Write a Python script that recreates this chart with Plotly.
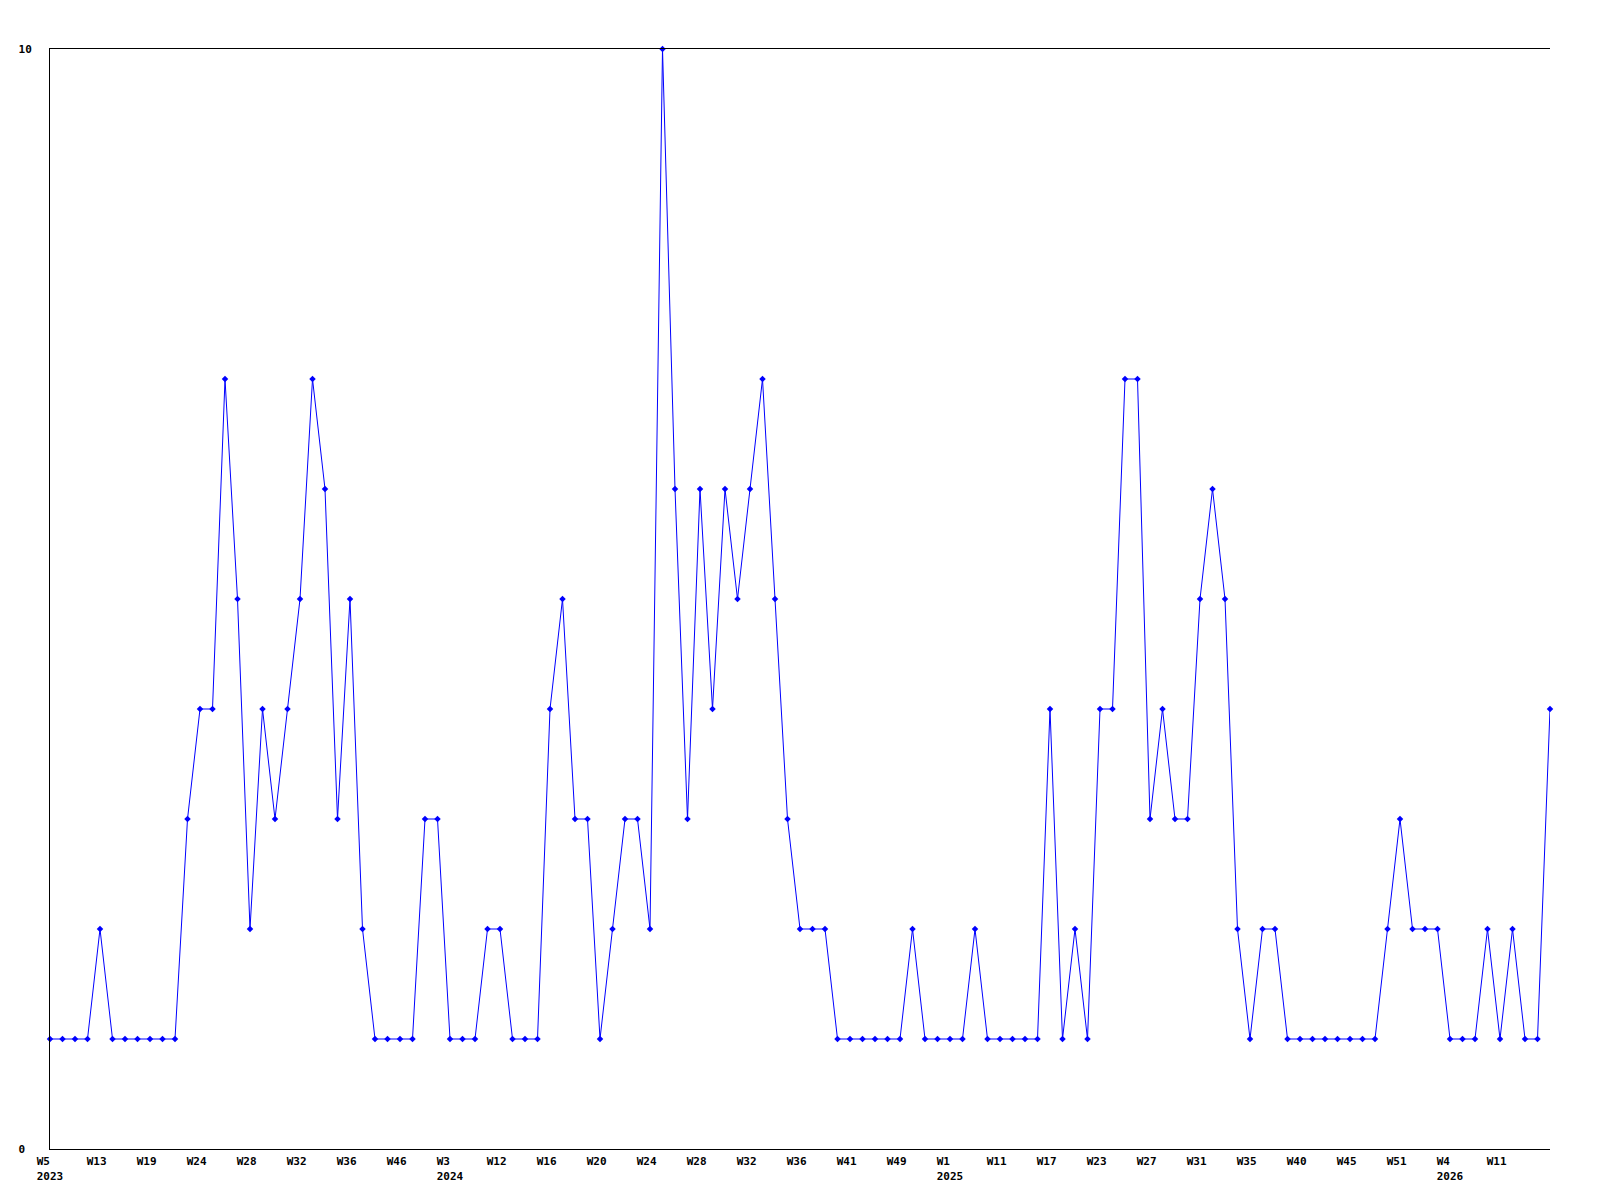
import plotly.graph_objects as go

# Weekly counts (one point per week with data)
values = [1, 1, 1, 1, 2, 1, 1, 1, 1, 1,
          1, 3, 4, 4, 7, 5, 2, 4, 3, 4,
          5, 7, 6, 3, 5, 2, 1, 1, 1, 1,
          3, 3, 1, 1, 1, 2, 2, 1, 1, 1,
          4, 5, 3, 3, 1, 2, 3, 3, 2, 10,
          6, 3, 6, 4, 6, 5, 6, 7, 5, 3,
          2, 2, 2, 1, 1, 1, 1, 1, 1, 2,
          1, 1, 1, 1, 2, 1, 1, 1, 1, 1,
          4, 1, 2, 1, 4, 4, 7, 7, 3, 4,
          3, 3, 5, 6, 5, 2, 1, 2, 2, 1,
          1, 1, 1, 1, 1, 1, 1, 2, 3, 2,
          2, 2, 1, 1, 1, 2, 1, 2, 1, 1,
          4]

# Week tick labels (every 4th point) and year marks
week_labels = ["W5", "W13", "W19", "W24", "W28", "W32", "W36", "W46", "W3", "W12",
               "W16", "W20", "W24", "W28", "W32", "W36", "W41", "W49", "W1", "W11",
               "W17", "W23", "W27", "W31", "W35", "W40", "W45", "W51", "W4", "W11"]
year_labels = ["2023", "", "", "", "", "", "", "", "2024", "",
               "", "", "", "", "", "", "", "", "2025", "",
               "", "", "", "", "", "", "", "", "2026", ""]
tick_step = 4

y_ticks = [0, 10]
y_tick_text = ["0", "10"]

NB = "\u00a0"


def pad(s, n=4):
    return s + NB * max(0, n - len(s))


x = list(range(len(values)))
tickvals = [i * tick_step for i in range(len(week_labels))]
ticktext = []
for w, yv in zip(week_labels, year_labels):
    t = pad(w)
    if yv:
        t += "<br>" + pad(yv)
    ticktext.append(t)

fig = go.Figure()
fig.add_trace(go.Scatter(
    x=x, y=values, mode="lines+markers",
    line=dict(color="#0000FF", width=1),
    marker=dict(symbol="diamond", size=5, color="#0000FF"),
    cliponaxis=False,
    hoverinfo="skip",
))

font = dict(family="DejaVu Sans Mono", size=11, color="#000000", weight="bold")

fig.update_layout(
    width=1600, height=1200,
    margin=dict(l=42, r=58, t=41, b=59, pad=0),
    paper_bgcolor="white", plot_bgcolor="white",
    showlegend=False,
    font=font,
    xaxis=dict(
        range=[0, len(values) - 1],
        tickmode="array", tickvals=tickvals, ticktext=ticktext,
        showgrid=False, zeroline=False,
        showline=True, linecolor="#000000", linewidth=1, mirror=True,
        ticks="", tickfont=font, tickangle=0, ticklabelstandoff=2,
    ),
    yaxis=dict(
        range=[0, 10],
        tickmode="array", tickvals=y_ticks,
        ticktext=[t + NB * (2 - len(t)) for t in y_tick_text],
        showgrid=False, zeroline=False,
        showline=True, linecolor="#000000", linewidth=1,
        ticks="", tickfont=font, ticklabelstandoff=15,
    ),
)

fig.write_html("out.html")
